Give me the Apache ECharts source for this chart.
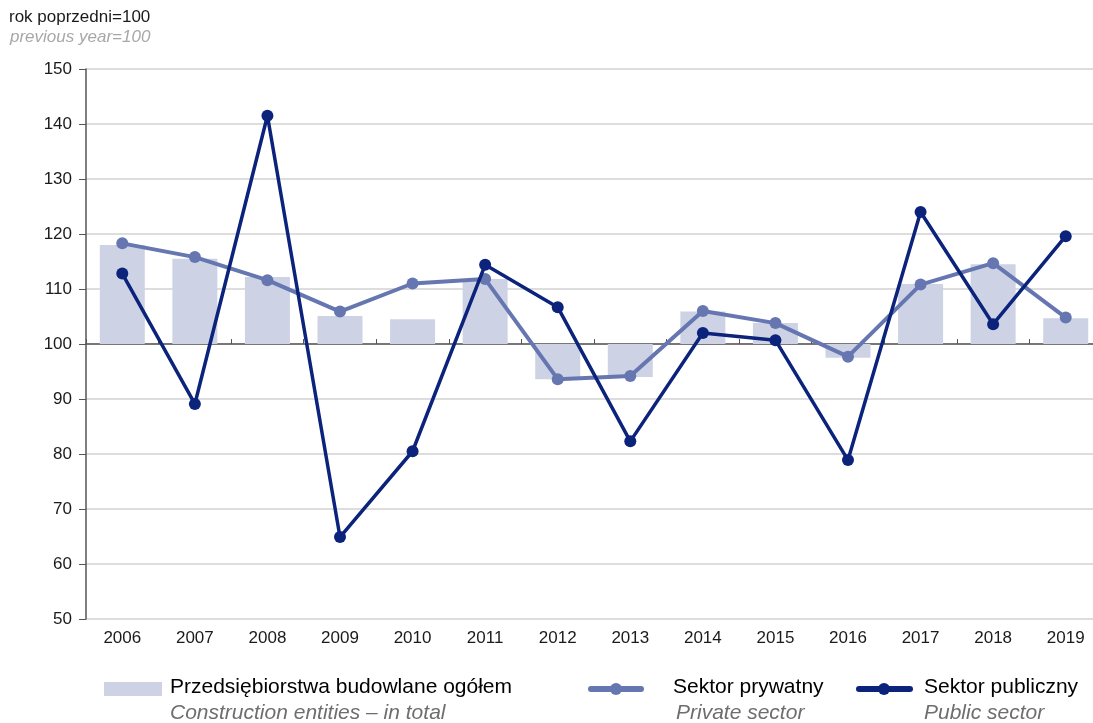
<!DOCTYPE html>
<html>
<head>
<meta charset="utf-8">
<script src="https://cdn.jsdelivr.net/npm/echarts@6/dist/echarts.min.js"></script>
<style>
  html, body { margin: 0; padding: 0; background: #fff; overflow: hidden; }
  #chart { width: 1093px; height: 723px; }
</style>
</head>
<body>
<div id="chart"></div>
<script>
// lata
var years = ['2006','2007','2008','2009','2010','2011','2012','2013','2014','2015','2016','2017','2018','2019'];
// przedsiebiorstwa budowlane ogolem (rok poprzedni=100)
var totalValues = [118.0, 115.5, 112.2, 105.1, 104.5, 111.8, 93.6, 94.0, 105.9, 103.8, 97.5, 110.9, 114.5, 104.7];
// sektor prywatny
var privateValues = [118.3, 115.8, 111.6, 105.9, 111.0, 111.8, 93.6, 94.2, 106.0, 103.8, 97.7, 110.8, 114.7, 104.8];
// sektor publiczny
var publicValues = [112.8, 89.1, 141.5, 64.9, 80.5, 114.4, 106.7, 82.3, 102.0, 100.7, 78.9, 124.0, 103.6, 119.6];
var yTicks = [50, 60, 70, 80, 90, 100, 110, 120, 130, 140, 150];

var barColor = '#cdd3e5';
var privColor = '#6676b0';
var pubColor = '#0c237c';
var font = '"Liberation Sans", Arial, sans-serif';

var myChart = echarts.init(document.getElementById('chart'));

var option = {
    animation: false,
    textStyle: { fontFamily: font },
    // wykres w oryginale wychodzi poza prawa krawedz
    grid: { left: 86, width: 1016, top: 69, height: 550, outerBoundsMode: 'none', containLabel: false },
    xAxis: [
        {
            type: 'category',
            data: years,
            boundaryGap: true,
            axisLine: { show: false },
            axisTick: { show: false },
            axisLabel: { color: '#1a1a1a', fontSize: 17, margin: 11, interval: 0 }
        },
        {
            type: 'category',
            data: years,
            boundaryGap: true,
            axisLine: { show: true, onZero: true, onZeroAxisIndex: 1, lineStyle: { color: '#555', width: 1.5 } },
            axisTick: { show: true, length: 5, lineStyle: { color: '#555' } },
            axisLabel: { show: false }
        }
    ],
    yAxis: [
        {
            type: 'value',
            min: yTicks[0],
            max: yTicks[yTicks.length - 1],
            interval: 10,
            axisLine: { show: true, lineStyle: { color: '#555', width: 1.5 } },
            axisTick: { show: true, length: 7, lineStyle: { color: '#555' } },
            axisLabel: { color: '#1a1a1a', fontSize: 17, margin: 14 },
            splitLine: { lineStyle: { color: '#d2d2d2', width: 1.5 } }
        },
        {
            type: 'value',
            min: -50,
            max: 50,
            show: false,
            splitLine: { show: false }
        }
    ],
    graphic: [
        { type: 'text', left: 9, top: 9, style: { text: 'rok poprzedni=100', font: '17px ' + font, fill: '#1a1a1a' } },
        { type: 'text', left: 10, top: 29, style: { text: 'previous year=100', font: 'italic 17px ' + font, fill: '#a8a8a8' } },

        { type: 'rect', shape: { x: 104, y: 682, width: 58, height: 14 }, style: { fill: barColor } },
        { type: 'text', left: 170, top: 677, style: { text: 'Przedsiębiorstwa budowlane ogółem', font: '21px ' + font, fill: '#000' } },
        { type: 'text', left: 170, top: 703, style: { text: 'Construction entities – in total', font: 'italic 21px ' + font, fill: '#6e6e6e' } },

        { type: 'line', shape: { x1: 591, y1: 689, x2: 641, y2: 689 }, style: { stroke: privColor, lineWidth: 6, lineCap: 'round' } },
        { type: 'circle', shape: { cx: 616, cy: 689, r: 6 }, style: { fill: privColor } },
        { type: 'text', left: 673, top: 677, style: { text: 'Sektor prywatny', font: '21px ' + font, fill: '#000' } },
        { type: 'text', left: 676, top: 703, style: { text: 'Private sector', font: 'italic 21px ' + font, fill: '#6e6e6e' } },

        { type: 'line', shape: { x1: 859, y1: 689, x2: 910, y2: 689 }, style: { stroke: pubColor, lineWidth: 6, lineCap: 'round' } },
        { type: 'circle', shape: { cx: 884, cy: 689, r: 6 }, style: { fill: pubColor } },
        { type: 'text', left: 924, top: 677, style: { text: 'Sektor publiczny', font: '21px ' + font, fill: '#000' } },
        { type: 'text', left: 924, top: 703, style: { text: 'Public sector', font: 'italic 21px ' + font, fill: '#6e6e6e' } }
    ],
    series: [
        {
            name: 'Przedsiębiorstwa budowlane ogółem',
            type: 'custom',
            xAxisIndex: 0,
            yAxisIndex: 0,
            z: 1,
            encode: { x: 0, y: 1 },
            data: totalValues.map(function (v, i) { return [i, v]; }),
            renderItem: function (params, api) {
                var idx = api.value(0);
                var top = api.coord([idx, api.value(1)]);
                var base = api.coord([idx, 100]);
                var w = api.size([1, 0])[0] * 0.62;
                return {
                    type: 'rect',
                    shape: {
                        x: top[0] - w / 2,
                        y: Math.min(top[1], base[1]),
                        width: w,
                        height: Math.abs(top[1] - base[1])
                    },
                    style: { fill: barColor }
                };
            }
        },
        {
            name: 'Sektor prywatny',
            type: 'line',
            z: 3,
            data: privateValues,
            symbol: 'circle',
            symbolSize: 12,
            lineStyle: { color: privColor, width: 4 },
            itemStyle: { color: privColor }
        },
        {
            name: 'Sektor publiczny',
            type: 'line',
            z: 4,
            data: publicValues,
            symbol: 'circle',
            symbolSize: 12,
            lineStyle: { color: pubColor, width: 3.5 },
            itemStyle: { color: pubColor }
        }
    ]
};

myChart.setOption(option);
</script>
</body>
</html>
